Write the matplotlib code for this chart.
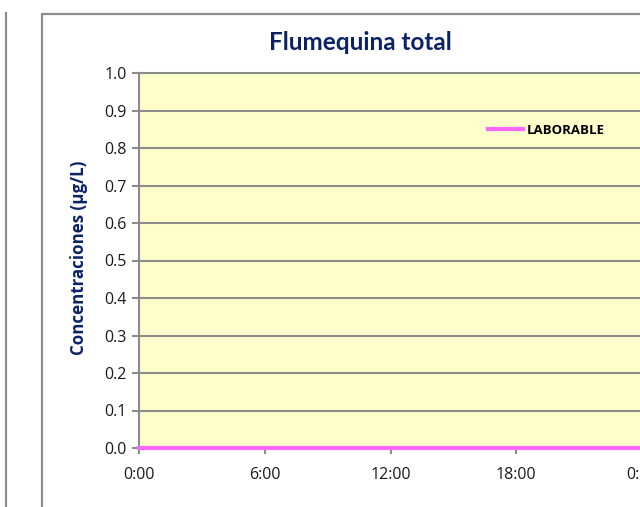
import matplotlib
matplotlib.use("Agg")
import matplotlib.pyplot as plt
from matplotlib.lines import Line2D
from matplotlib.patches import Rectangle

# Data
hours = [0, 1, 2, 3, 4, 5, 6, 7, 8, 9, 10, 11, 12, 13, 14, 15, 16, 17, 18, 19, 20, 21, 22, 23, 24]
laborable = [0.0, 0.0, 0.0, 0.0, 0.0, 0.0, 0.0, 0.0, 0.0, 0.0, 0.0, 0.0, 0.0,
             0.0, 0.0, 0.0, 0.0, 0.0, 0.0, 0.0, 0.0, 0.0, 0.0, 0.0, 0.0]
x_ticks = [0, 6, 12, 18, 24]
x_tick_labels = ["0:00", "6:00", "12:00", "18:00", "0:00"]
y_ticks = [0.0, 0.1, 0.2, 0.3, 0.4, 0.5, 0.6, 0.7, 0.8, 0.9, 1.0]
title = "Flumequina total"
ylabel = "Concentraciones (µg/L)"
series_name = "LABORABLE"

W, H = 640, 507
plt.rcParams['font.family'] = ['Open Sans', 'DejaVu Sans']
fig = plt.figure(figsize=(W / 100, H / 100), dpi=100)
fig.patch.set_facecolor("white")

def fx(px):
    return px / W

def fy(py):
    return 1 - py / H

navy = "#0B2265"
grid_gray = "#8C8C8C"
pink = "#FF66FF"

# Neighbouring chart's border (left)
fig.add_artist(Line2D([fx(5.5), fx(5.5)], [fy(13), fy(520)], color="#8C8C8C", lw=1.6))
# Chart box
fig.add_artist(Rectangle((fx(41.5), fy(530)), fx(700), fy(14) - fy(530), fill=False,
                         edgecolor="#8C8C8C", lw=1.6))

# Plot area
left, right, top, bottom = 139, 642, 73, 448
ax = fig.add_axes([fx(left), fy(bottom), fx(right - left), fy(top) - fy(bottom)])
ax.set_facecolor("#FFFFCC")
ax.set_xlim(0, 24)
ax.set_ylim(0, 1.0)
ax.set_yticks(y_ticks)
ax.set_yticklabels([f"{v:.1f}" for v in y_ticks])
ax.set_xticks(x_ticks)
ax.set_xticklabels(x_tick_labels)
ax.grid(axis="y", color=grid_gray, lw=1.5)
ax.set_axisbelow(True)
for s in ["top", "right", "bottom"]:
    ax.spines[s].set_visible(False)
ax.spines["left"].set_color(grid_gray)
ax.spines["left"].set_linewidth(1.5)
ax.tick_params(axis="y", direction="out", length=5, width=1.5, color=grid_gray,
               labelsize=11.5, labelcolor="#1a1a1a", pad=4)
ax.tick_params(axis="x", direction="out", length=4, width=1.5, color=grid_gray,
               labelsize=11.5, labelcolor="#1a1a1a", pad=10)
ax.axhline(1.0, color=grid_gray, lw=1.5, clip_on=False)

line, = ax.plot(hours, laborable, color=pink, lw=3, clip_on=False, zorder=5,
                label=series_name)

leg = fig.legend(handles=[line], loc="center left",
                 bbox_to_anchor=(fx(483), fy(130)), bbox_transform=fig.transFigure,
                 frameon=False, handlelength=2.6, handletextpad=0.3,
                 prop={"family": "Open Sans", "weight": "bold", "size": 9.5}, borderaxespad=0)

fig.text(fx(360), fy(42), title, ha="center", va="center", color=navy,
         fontsize=17.5, fontweight="bold", family=["Lato", "DejaVu Sans"])
fig.text(fx(79), fy(258), ylabel, ha="center", va="center", rotation=90,
         color=navy, fontsize=12.2, fontweight="bold")

fig.savefig("out.png", dpi=100)
